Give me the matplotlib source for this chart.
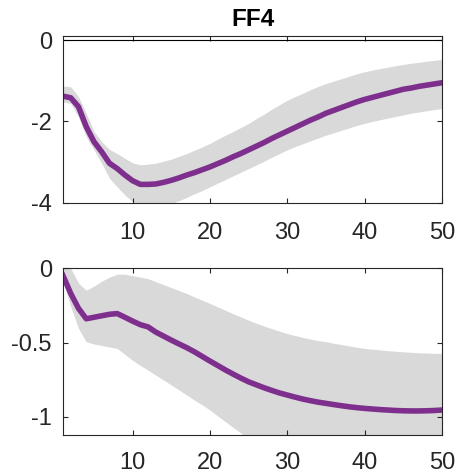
import matplotlib
matplotlib.use("Agg")
import matplotlib.pyplot as plt
import numpy as np

plt.rcParams['font.family'] = ['Liberation Sans', 'DejaVu Sans']

horizon = list(range(1, 51))

top_median = [-1.38, -1.42, -1.64, -2.13, -2.50, -2.75, -3.03, -3.16, -3.32, -3.46,
              -3.55, -3.55, -3.54, -3.50, -3.45, -3.39, -3.32, -3.26, -3.19, -3.12,
              -3.04, -2.96, -2.87, -2.79, -2.70, -2.61, -2.52, -2.42, -2.33, -2.24,
              -2.15, -2.06, -1.97, -1.89, -1.80, -1.73, -1.66, -1.59, -1.52, -1.46,
              -1.41, -1.36, -1.31, -1.26, -1.21, -1.18, -1.14, -1.11, -1.08, -1.05]
top_upper = [-1.13, -1.15, -1.39, -1.80, -2.25, -2.50, -2.69, -2.79, -2.91, -3.02,
             -3.07, -3.05, -3.03, -2.98, -2.93, -2.86, -2.79, -2.71, -2.63, -2.54,
             -2.44, -2.34, -2.25, -2.15, -2.05, -1.93, -1.82, -1.70, -1.59, -1.48,
             -1.39, -1.31, -1.22, -1.14, -1.07, -1.01, -0.95, -0.89, -0.83, -0.78,
             -0.74, -0.70, -0.67, -0.63, -0.60, -0.57, -0.55, -0.52, -0.50, -0.48]
top_lower = [-1.52, -1.56, -1.89, -2.38, -2.70, -3.03, -3.40, -3.61, -3.81, -3.98,
             -4.10, -4.18, -4.15, -4.10, -4.02, -3.95, -3.87, -3.78, -3.70, -3.61,
             -3.52, -3.43, -3.34, -3.25, -3.16, -3.07, -2.98, -2.88, -2.79, -2.70,
             -2.62, -2.55, -2.48, -2.41, -2.34, -2.28, -2.22, -2.16, -2.10, -2.05,
             -2.00, -1.96, -1.92, -1.88, -1.84, -1.80, -1.77, -1.74, -1.71, -1.68]

bot_median = [-0.05, -0.17, -0.27, -0.34, -0.33, -0.32, -0.31, -0.305, -0.33, -0.356,
              -0.38, -0.395, -0.43, -0.457, -0.484, -0.51, -0.535, -0.563, -0.594, -0.625,
              -0.655, -0.685, -0.713, -0.74, -0.765, -0.785, -0.805, -0.823, -0.84, -0.854,
              -0.868, -0.881, -0.892, -0.902, -0.91, -0.918, -0.926, -0.933, -0.939, -0.944,
              -0.948, -0.952, -0.955, -0.958, -0.96, -0.961, -0.961, -0.96, -0.958, -0.955]
bot_upper = [0.05, 0.0, -0.10, -0.148, -0.12, -0.087, -0.06, -0.04, -0.04, -0.05,
             -0.06, -0.07, -0.09, -0.11, -0.13, -0.15, -0.17, -0.193, -0.215, -0.237,
             -0.26, -0.283, -0.306, -0.328, -0.35, -0.37, -0.389, -0.407, -0.424, -0.44,
             -0.453, -0.466, -0.477, -0.487, -0.495, -0.505, -0.514, -0.523, -0.532, -0.54,
             -0.545, -0.55, -0.555, -0.559, -0.563, -0.566, -0.569, -0.571, -0.573, -0.574]
bot_lower = [-0.08, -0.26, -0.405, -0.495, -0.51, -0.52, -0.53, -0.54, -0.58, -0.62,
             -0.655, -0.686, -0.72, -0.753, -0.786, -0.82, -0.854, -0.888, -0.92, -0.955,
             -0.995, -1.034, -1.072, -1.11, -1.15, -1.19, -1.23, -1.27, -1.31, -1.35,
             -1.38, -1.41, -1.44, -1.47, -1.50, -1.52, -1.54, -1.56, -1.58, -1.60,
             -1.61, -1.62, -1.63, -1.64, -1.65, -1.66, -1.67, -1.68, -1.69, -1.70]

title = "FF4"
top_yticks = [-4, -2, 0]
top_yticklabels = ["-4", "-2", "0"]
bot_yticks = [-1, -0.5, 0]
bot_yticklabels = ["-1", "-0.5", "0"]
xticks = [10, 20, 30, 40, 50]

line_color = '#7E2F8E'
band_color = '#D9D9D9'
axis_color = '#262626'

fig = plt.figure(figsize=(4.58, 4.74), dpi=100)
ax1 = fig.add_axes([0.1376, 0.5724, 0.8275, 0.3517])
ax2 = fig.add_axes([0.1376, 0.0823, 0.8275, 0.3517])

def style(ax, yt, ytl, ylim, xpad):
    ax.set_xlim(1, 50)
    ax.set_ylim(*ylim)
    ax.set_xticks(xticks)
    ax.set_xticklabels([str(t) for t in xticks])
    ax.set_yticks(yt)
    ax.set_yticklabels(ytl)
    ax.tick_params(direction='in', length=3.5, width=0.8, colors=axis_color,
                   labelsize=17, top=True, right=True)
    ax.tick_params(axis='y', pad=8)
    ax.tick_params(axis='x', pad=xpad)
    for s in ax.spines.values():
        s.set_color(axis_color)
        s.set_linewidth(0.8)

ax1.fill_between(horizon, top_lower, top_upper, color=band_color, linewidth=0)
ax1.axhline(0, color='black', linewidth=0.8)
ax1.plot(horizon, top_median, color=line_color, linewidth=4)
style(ax1, top_yticks, top_yticklabels, (-4, 0.1), 14)
ax1.set_title(title, fontsize=17.5, fontweight='bold', pad=7)

ax2.fill_between(horizon, bot_lower, bot_upper, color=band_color, linewidth=0)
ax2.plot(horizon, bot_median, color=line_color, linewidth=4)
style(ax2, bot_yticks, bot_yticklabels, (-1.123, 0), 12)

fig.savefig("out.png", dpi=100)
